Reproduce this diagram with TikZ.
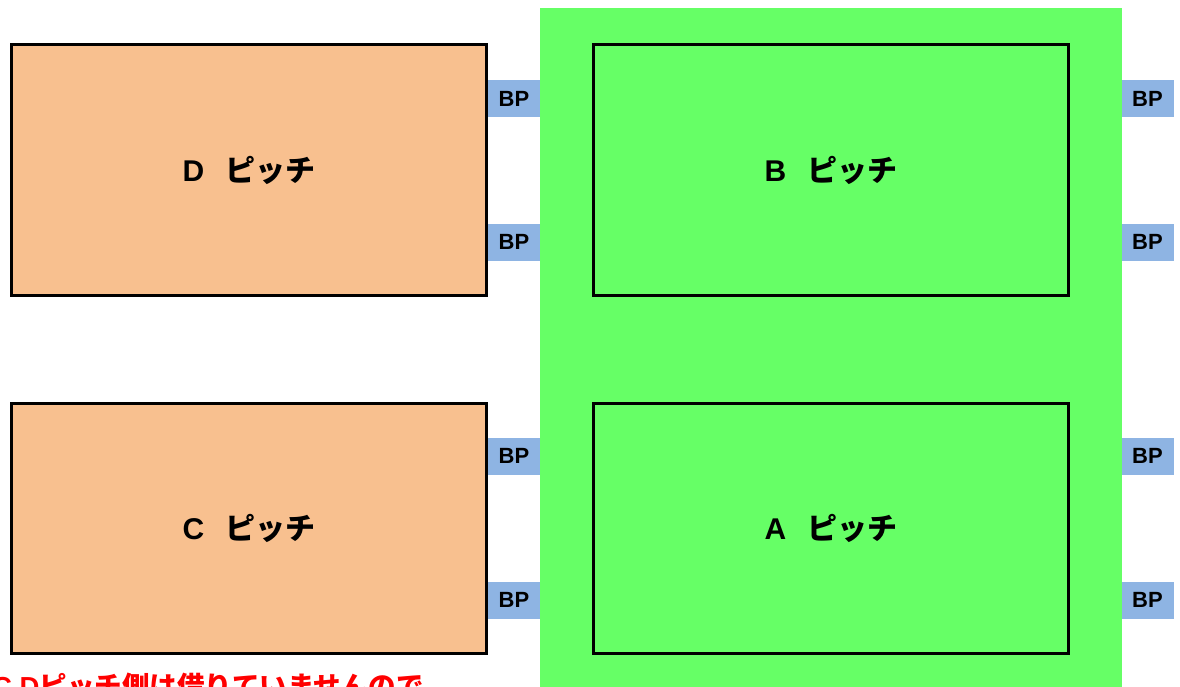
\documentclass[tikz,border=0pt]{standalone}
\usepackage{fontspec}
\setmainfont{Noto Sans CJK JP}
\newfontfamily\latinfont{Liberation Sans}
\usetikzlibrary{positioning}
\definecolor{pitchorange}{RGB}{248,192,143}
\definecolor{pitchgreen}{RGB}{102,255,102}
\definecolor{bpblue}{RGB}{142,180,227}

\begin{document}
\begin{tikzpicture}[x=1pt,y=-1pt,
    pitch/.style={draw=black, line width=3pt, minimum width=475pt, minimum height=250pt, inner sep=0pt, font=\fontsize{30}{36}\selectfont\bfseries},
    bp/.style={fill=bpblue, minimum width=52pt, minimum height=37pt, inner sep=0pt, font=\latinfont\fontsize{22}{26}\selectfont\bfseries}]
    \useasboundingbox (0,0) rectangle (1180,687);
    \clip (0,0) rectangle (1180,687);

    % Rented area
    \fill [pitchgreen] (540,8) rectangle (1122,687);

    % Bench positions
    \node [bp] (bpD1) at (514,98.5) {BP};
    \node [bp] (bpD2) at (514,242) {BP};
    \node [bp] (bpC1) at (514,456) {BP};
    \node [bp] (bpC2) at (514,600) {BP};
    \node [bp] (bpB1) at (1147.5,98.5) {BP};
    \node [bp] (bpB2) at (1147.5,242) {BP};
    \node [bp] (bpA1) at (1147.5,456) {BP};
    \node [bp] (bpA2) at (1147.5,600) {BP};

    % Pitches
    \node [pitch, fill=pitchorange] (pitchD) at (249,170) {{\latinfont D}\hspace{0.7em}ピッチ};
    \node [pitch, fill=pitchorange] (pitchC) at (249,528) {{\latinfont C}\hspace{0.7em}ピッチ};
    \node [pitch] (pitchB) at (831,170) {{\latinfont B}\hspace{0.7em}ピッチ};
    \node [pitch] (pitchA) at (831,528) {{\latinfont A}\hspace{0.7em}ピッチ};

    % Note
    \node [anchor=base west, inner sep=0pt, text=red, font=\fontsize{27.5}{32}\selectfont\bfseries] (note) at (-8,696) {{\latinfont C,D}ピッチ側は借りていませんので};
\end{tikzpicture}
\end{document}
